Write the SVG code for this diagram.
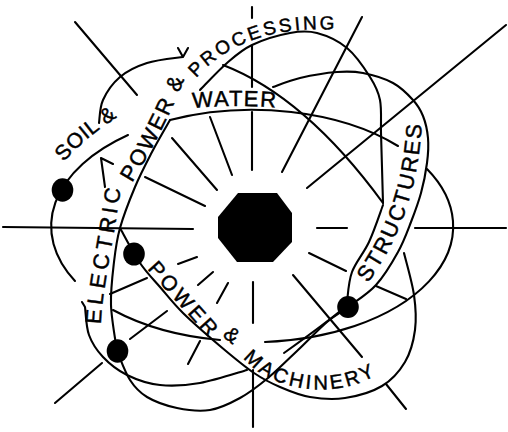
<svg xmlns="http://www.w3.org/2000/svg" width="508" height="432" viewBox="0 0 508 432">
<style>
.ln{fill:none;stroke:#000;stroke-width:2.1;stroke-linecap:round;stroke-linejoin:round}
.lbl{font-family:"Liberation Sans",Arial,sans-serif;fill:#000;stroke:#000;stroke-width:0.45;font-size:22px}
.dot{fill:#000}
</style>
<defs>
<path id="pSoil" d="M64,162 Q84,138 121,115"/>
<path id="pWater" d="M193,108 Q234,104 280,108"/>
<path id="pElectric" d="M101,324 C102,290 114,240 121,186"/>
<path id="pPower1" d="M132,183 Q166,127 187,73"/>
<path id="pProcessing" d="M196,78 C226,45 271,25 342,30"/>
<path id="pStructures" d="M368,283 C394,246 420,196 422,114"/>
<path id="pPower2" d="M147,269 L210,339"/>
<path id="pAmp2" d="M222,336 L244,354"/>
<path id="pMachinery" d="M243,358 C274,393 338,401 383,371"/>
</defs>
<rect width="508" height="432" fill="#fff"/>
<g id="rays" class="ln">
<line x1="252" y1="112" x2="252" y2="170"/>
<line x1="252" y1="46" x2="252" y2="87"/>
<line x1="252" y1="7" x2="252" y2="18"/>
<line x1="282" y1="172" x2="362" y2="17"/>
<line x1="307" y1="188" x2="506" y2="25"/>
<line x1="317" y1="228" x2="347" y2="228"/>
<line x1="415" y1="228" x2="506" y2="228"/>
<line x1="309" y1="253" x2="346" y2="271"/>
<line x1="376" y1="286" x2="406" y2="299"/>
<line x1="293" y1="275" x2="362" y2="357"/>
<line x1="386" y1="384" x2="406" y2="409"/>
<line x1="253" y1="282" x2="253" y2="323"/>
<line x1="253" y1="370" x2="253" y2="427"/>
<line x1="217" y1="303" x2="228" y2="283"/>
<line x1="188" y1="364" x2="200" y2="341"/>
<line x1="198" y1="285" x2="213" y2="272"/>
<line x1="130" y1="339" x2="167" y2="311"/>
<line x1="55" y1="403" x2="102" y2="363"/>
<line x1="178" y1="264" x2="197" y2="257"/>
<line x1="110" y1="294" x2="147" y2="278"/>
<line x1="3" y1="227" x2="193" y2="229"/>
<line x1="145" y1="177" x2="205" y2="206"/>
<line x1="75" y1="22" x2="137" y2="95"/>
<line x1="172" y1="138" x2="217" y2="190"/>
<line x1="210" y1="117" x2="232" y2="175"/>
</g>
<g id="orbits" class="ln">
<path d="M75,281 A201,116 0 0 1 128,135"/>
<path d="M170,120 A201,116 0 0 1 398,146"/>
<path d="M427,169 A201,116 0 0 1 265,342"/>
<path d="M220,340 A201,116 0 0 1 113,310"/>
<path d="M99,123 C99.7,119.2 99.5,107.7 103,100 C106.5,92.3 112.7,83.2 120,77 C127.3,70.8 136.7,66.3 147,63 C157.3,59.7 176.2,58 183,57 L188,48 M178,48 L183,57"/>
<path d="M223,65 C288,90 341.7,146.5 383,203"/>
<path d="M117,351 C116,343.3 111.5,319.8 111,305 C110.5,290.2 112.5,274.8 114,262 C115.5,249.2 116.5,240.5 120,228 C123.5,215.5 129.7,199.7 135,187 C140.3,174.3 146.2,163.2 152,152 C157.8,140.8 167,125.3 170,120"/>
<path d="M200,90 C204.5,85.5 218.3,70.5 227,63 C235.7,55.5 241.5,50 252,45 C262.5,40 279.2,35 290,33 C300.8,31 307.5,30.5 317,33 C326.5,35.5 338.2,40.7 347,48 C355.8,55.3 364.5,68.3 370,77 C375.5,85.7 378.2,90.7 380,100 C381.8,109.3 380.7,121.3 381,133 C381.5,150 382.7,191 383,203"/>
<path d="M383,205 C380.7,211.2 374.2,230.8 369,242 C363.8,253.2 355.7,262 352,272 C348.3,282 347.8,297 347,302"/>
<path d="M345,307 C330,320 305,338 284,353"/>
<path d="M404,253 C405.7,260 412.2,282.2 414,295 C415.8,307.8 416.5,318.8 415,330 C413.5,341.2 410.5,352.7 405,362 C399.5,371.3 392,380 382,386 C372,392 357,396.2 345,398 C333,399.8 320.8,398.8 310,397 C299.2,395.2 289.3,391 280,387 C270.7,383 264,379.8 254,373 C244,366.2 231.8,356 220,346 C208.2,336 193,322.8 183,313 C173,303.2 167.2,295.3 160,287 C152.8,278.7 146.7,272.8 140,263 C133.3,253.2 123.3,233.8 120,228"/>
<path d="M117,351 C119.2,355.8 125,372.3 130,380 C135,387.7 139.2,392.3 147,397 C154.8,401.7 166.5,405.8 177,408 C187.5,410.2 199.5,411.7 210,410 C220.5,408.3 230.3,403.3 240,398 C249.7,392.7 258.3,386 268,378 C277.7,370 288.2,359.3 298,350 C307.8,340.7 318.7,329.2 327,322 C335.3,314.8 339.8,313.2 348,307 C356.2,300.8 367.7,294.2 376,285 C384.3,275.8 392.2,262.5 398,252 C403.8,241.5 407.2,231.8 411,222 C414.8,212.2 418.3,202.8 421,193 C423.7,183.2 425.8,172.2 427,163 C428.2,153.8 428.7,145.8 428,138 C427.3,130.2 425.5,122.3 423,116 C420.5,109.7 418,105.5 413,100 C408,94.5 401.3,87.5 393,83 C384.7,78.5 372.3,74.8 363,73 C353.7,71.2 347.5,71.2 337,72 C326.5,72.8 310.7,75.5 300,78 C289.3,80.5 277.5,85.5 273,87"/>
<path d="M85,307 C85.7,311.7 86,326.7 89,335 C92,343.3 96.7,350.3 103,357 C109.3,363.7 117.5,370.3 127,375 C136.5,379.7 147.8,383.7 160,385 C172.2,386.3 185.5,385.5 200,383 C214.5,380.5 239.2,372.2 247,370 M82,302 L85,307"/>
<path d="M105,187 L101,158 L113,164"/>
</g>
<g id="nucleus">
<polygon points="218,217 238,193 277,193 292,213 292,242 273,262 237,262 218,238" fill="#000"/>
</g>
<g id="electrons">
<ellipse class="dot" cx="62.5" cy="190" rx="10.8" ry="11.8"/>
<ellipse class="dot" cx="134" cy="254" rx="10.8" ry="11.5"/>
<ellipse class="dot" cx="117.5" cy="351" rx="10.8" ry="11.8"/>
<ellipse class="dot" cx="348" cy="307" rx="10.8" ry="11"/>
</g>
<g id="labels">
<text id="label-soil-water" class="lbl"><textPath href="#pSoil" textLength="70" style="font-size:21px">SOIL &amp;</textPath> <textPath href="#pWater" textLength="83">WATER</textPath></text>
<text id="label-electric" class="lbl"><textPath href="#pElectric" textLength="137">ELECTRIC</textPath> <textPath href="#pPower1" textLength="116">POWER &amp;</textPath> <textPath href="#pProcessing" textLength="152" style="font-size:19px">PROCESSING</textPath></text>
<text id="label-structures" class="lbl"><textPath href="#pStructures" textLength="170">STRUCTURES</textPath></text>
<text id="label-power-machinery" class="lbl" style="font-size:21px"><textPath href="#pPower2" textLength="92">POWER</textPath> <textPath href="#pAmp2">&amp;</textPath> <textPath href="#pMachinery" textLength="143" style="font-size:20px">MACHINERY</textPath></text>
</g>
</svg>
